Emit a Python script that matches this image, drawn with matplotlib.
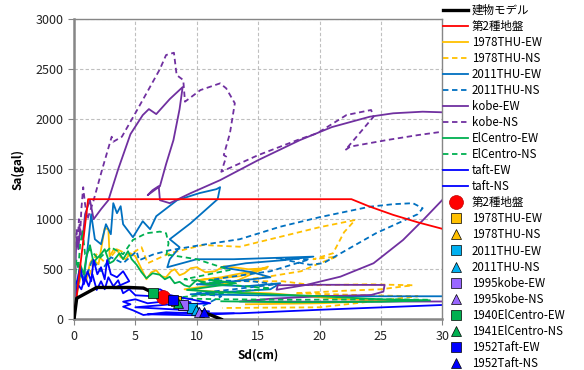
import matplotlib
matplotlib.use('Agg')
import matplotlib.pyplot as plt

plt.rcParams['font.family'] = ['Noto Sans CJK JP', 'DejaVu Sans']

# building capacity curve and site spectrum
bld_sd = [0, 0.22, 1.85, 3.0, 4.5, 5.65, 6.5, 7.3, 8.0, 8.9, 9.6, 10.3, 11.0, 12.0]
bld_sa = [0, 210, 318, 318, 318, 312, 262, 228, 196, 150, 115, 78, 50, 0]
spec_sd = [0, 1.15, 22.6, 24, 26, 28, 30]
spec_sa = [0, 1200, 1200, 1130, 1043, 969, 904]

# response traces (Sd cm, Sa gal)
thu78_ew_sd = [0, 0.3, 0.6, 1.0, 1.3, 1.5, 2.0, 2.5, 2.8, 2.9, 3.2, 3.5, 3.8, 4.2, 4.6, 5.0, 5.9, 6.3, 6.7, 7.1,
               7.5, 7.9, 8.2, 8.6, 9.0, 9.5, 10, 10.7, 11.5, 12.2, 13, 14.2, 15.7,
               12, 10, 13.5, 15.8, 13, 9, 11, 16, 22, 26, 20, 14]
thu78_ew_sa = [0, 300, 450, 380, 560, 600, 550, 910, 900, 630, 690, 700, 620, 600, 660, 630, 400, 470, 490, 430,
               420, 480, 500, 440, 460, 510, 520, 470, 480, 530, 520, 500, 510,
               420, 390, 430, 526, 370, 300, 280, 260, 200, 190, 160, 150]
thu78_ns_sd = [0, 0.3, 0.7, 1.2, 1.8, 2.6, 3.5, 4.5, 5.5, 6.0, 7.8, 10.5, 13.5, 17, 20, 22.9, 22, 21.1, 19.5, 21.4,
               20, 18.5, 16, 13, 17, 19.5, 24, 27.6, 25, 22, 18, 24, 28, 20, 12.1]
thu78_ns_sa = [0, 350, 500, 420, 650, 560, 700, 640, 720, 560, 660, 742, 725, 830, 920, 992, 870, 660, 600, 626,
               560, 480, 430, 380, 380, 340, 350, 340, 300, 285, 260, 240, 230, 120, 113]
thu11_ew_sd = [0, 0.2, 0.5, 0.8, 1.1, 1.4, 1.7, 2.2, 2.6, 3.0, 3.2, 3.5, 3.8, 4.0, 4.8, 5.6, 6.2, 6.7, 8.4, 10.2,
               11.6, 11.9, 11.7, 9.5, 7.8, 8.6, 7.8, 7.6, 10, 13, 16, 19.5, 17, 14, 12, 14.5, 16, 13, 10, 14, 16.8,
               16, 12, 9.5, 15, 22, 30, 32]
thu11_ew_sa = [0, 250, 450, 400, 700, 1050, 800, 750, 950, 850, 1160, 1060, 1130, 950, 820, 980, 900, 1030, 1190, 1260,
               1300, 1320, 1200, 960, 800, 720, 600, 520, 600, 600, 612, 626, 590, 560, 520, 470, 420, 380, 350, 330, 360,
               300, 270, 250, 240, 230, 230, 230]
thu11_ns_sd = [0, 0.3, 0.6, 1.0, 1.5, 2.2, 3.0, 4.0, 5.1, 5.3, 6.5, 7.8, 10.5, 13.5, 16.8, 20, 24.1, 26, 27.6, 28.4,
               28, 24.6, 20.3, 19.2, 16.5, 19.2, 16, 12.5, 11, 14.5, 16.5, 13, 10, 12, 9.9]
thu11_ns_sa = [0, 350, 500, 420, 600, 480, 620, 560, 680, 590, 650, 690, 745, 800, 925, 1020, 1125, 1150, 1160, 1110,
               1050, 860, 560, 545, 610, 600, 480, 420, 390, 380, 350, 300, 260, 230, 95]
kobe_ew_sd = [0, 0.1, 0.15, 0.2, 0.35, 0.5, 0.7, 0.9, 1.3, 1.6, 2.2, 2.8, 3.6, 4.6, 5.6, 6.1, 6.7, 7.8, 8.85, 8.6,
              8.1, 7.5, 7.0, 6.0, 6.4, 6.9, 7.0, 7.8, 9.5, 11.9, 15, 18.4, 21, 24.1, 26, 28.4, 30, 31.5, 32, 30,
              28.5, 26.8, 24.4, 21.7, 18.9, 16.5, 16.6, 20, 25.3, 25.2, 24.2, 20, 16, 13.5, 20, 30, 31]
kobe_ew_sa = [0, 300, 650, 820, 700, 900, 800, 1050, 1190, 1000, 1100, 1190, 1500, 1850, 2040, 2100, 2050, 2200, 2320, 2100,
              1790, 1550, 1330, 1240, 1290, 1330, 1190, 1160, 1260, 1390, 1590, 1790, 1920, 2024, 2058, 2074, 2068, 2060, 1700, 1192,
              1000, 792, 560, 426, 343, 295, 340, 345, 343, 276, 243, 230, 205, 178, 176, 178, 178]
kobe_ns_sd = [0, 0.05, 0.1, 0.2, 0.3, 0.4, 0.5, 0.6, 0.75, 0.9, 1.1, 1.6, 2.3, 3.07, 3.2, 3.9, 5.0, 6.05, 7.0, 7.5,
              8.14, 8.36, 8.9, 9.04, 10.3, 11.9, 12.4, 13.1, 12.7, 12.2, 12.4, 12.0, 15, 18.4, 19.8, 22.2, 24.2, 24.4,
              22.1, 22.5, 25.5, 28, 30, 32]
kobe_ns_sa = [0, 400, 800, 900, 750, 1000, 850, 1100, 1320, 1150, 1000, 1190, 1500, 1824, 1774, 1824, 2060, 2290, 2500, 2640,
              2663, 2440, 2390, 2174, 2290, 2357, 2307, 2158, 1858, 1641, 1624, 1474, 1640, 1800, 1858, 2041, 2091, 2024,
              1691, 1725, 1791, 1840, 1874, 1900]
elc_ew_sd = [0, 0.2, 0.5, 0.8, 1.0, 1.3, 1.6, 1.8, 2.2, 2.5, 2.9, 3.2, 3.7, 4.0, 4.4, 4.7, 5.1, 5.5, 5.9, 6.4,
             7.0, 7.4, 7.8, 8.2, 8.6, 9.0, 9.4, 10.0, 10.8, 11.9, 11.1, 13.2,
             9.2, 12, 16, 20, 25, 29, 25, 18, 12]
elc_ew_sa = [0, 300, 550, 450, 620, 740, 560, 600, 650, 700, 560, 580, 660, 600, 680, 600, 545, 470, 410, 460,
             445, 400, 425, 360, 375, 340, 325, 393, 350, 360, 395, 360,
             293, 270, 250, 230, 200, 190, 175, 170, 180]
elc_ns_sd = [0, 0.1, 0.2, 0.35, 0.5, 0.7, 0.9, 1.3, 2, 3, 4, 4.8, 5.9, 7.0, 7.5, 7.7, 7.5, 7.8, 10, 12.7,
             11, 9, 12, 16, 12, 7.8, 12, 18, 25, 29]
elc_ns_sa = [0, 400, 600, 500, 750, 880, 650, 700, 600, 720, 650, 793, 860, 876, 860, 760, 626, 643, 600, 493,
             450, 400, 350, 310, 260, 210, 200, 195, 200, 195]
taft_ew_sd = [0, 0.08, 0.3, 0.5, 0.8, 1.1, 1.4, 1.6, 1.9, 2.2, 2.5, 2.7, 3.0, 3.5, 4.0, 4.5, 3.2, 5.6, 6.4, 7.0,
              7.8, 8.6, 9.5, 11.1, 9, 7.5, 6, 5.0, 4.0, 4.6, 4.0, 4.8, 5.65, 7.5, 9.7, 13.5, 20, 30, 31]
taft_ew_sa = [0, 330, 400, 526, 350, 480, 380, 593, 450, 520, 400, 593, 450, 420, 480, 380, 310, 310, 280, 300,
              243, 220, 200, 160, 150, 180, 160, 200, 176, 150, 126, 90, 43, 70, 60, 60, 95, 143, 148]
taft_ns_sd = [0, 0.1, 0.3, 0.6, 0.9, 1.2, 1.5, 1.85, 2.2, 2.5, 2.8, 3.2, 3.6, 4, 4.5, 5, 6.5, 8, 9.5, 7,
              5, 8, 11, 8, 6, 10, 13]
taft_ns_sa = [0, 200, 350, 300, 420, 330, 450, 293, 380, 300, 420, 330, 390, 260, 300, 240, 230, 200, 170, 140,
              120, 100, 80, 60, 50, 40, 60]

line_labels = ['建物モデル', '第2種地盤', '1978THU-EW', '1978THU-NS', '2011THU-EW', '2011THU-NS',
               'kobe-EW', 'kobe-NS', 'ElCentro-EW', 'ElCentro-NS', 'taft-EW', 'taft-NS']

# performance points
pt_labels = ['第2種地盤', '1978THU-EW', '1978THU-NS', '2011THU-EW', '2011THU-NS', '1995kobe-EW',
             '1995kobe-NS', '1940ElCentro-EW', '1941ElCentro-NS', '1952Taft-EW', '1952Taft-NS']
pt_sd = [7.27, 8.3, 9.0, 9.58, 9.9, 8.85, 10.2, 6.46, 8.5, 8.03, 10.6]
pt_sa = [226, 185, 140, 110, 95, 146, 70, 260, 166, 193, 76]

orange = '#FFC000'
blue11 = '#0070C0'
purple = '#7030A0'
green = '#00B050'
blue = '#0000FF'
dash = (0, (3, 2))

fig = plt.figure(figsize=(5.84, 3.70), dpi=100)
ax = fig.add_axes([74 / 584, 50.7 / 370, 368.3 / 584, 300.3 / 370])

traces = [
    (bld_sd, bld_sa, 'black', '-', 2.4),
    (spec_sd, spec_sa, '#FF0000', '-', 1.3),
    (thu78_ew_sd, thu78_ew_sa, orange, '-', 1.3),
    (thu78_ns_sd, thu78_ns_sa, orange, dash, 1.3),
    (thu11_ew_sd, thu11_ew_sa, blue11, '-', 1.3),
    (thu11_ns_sd, thu11_ns_sa, blue11, dash, 1.3),
    (kobe_ew_sd, kobe_ew_sa, purple, '-', 1.3),
    (kobe_ns_sd, kobe_ns_sa, purple, dash, 1.3),
    (elc_ew_sd, elc_ew_sa, green, '-', 1.3),
    (elc_ns_sd, elc_ns_sa, green, dash, 1.3),
    (taft_ew_sd, taft_ew_sa, blue, '-', 1.3),
    (taft_ns_sd, taft_ns_sa, blue, '-', 1.3),
]
zs = [5, 4.5, 2, 2, 2, 2, 2, 2, 2, 2, 2.2, 2.2]
for (x, y, c, ls, lw), lab, z in zip(traces, line_labels, zs):
    ax.plot(x, y, color=c, linestyle=ls, linewidth=lw, label=lab, zorder=z)

pt_marker = ['o', 's', '^', 's', '^', 's', '^', 's', '^', 's', '^']
pt_color = ['#FF0000', orange, orange, '#00B0F0', '#00B0F0', '#9966FF', '#9966FF',
            green, green, blue, blue]
for sd, sa, lab, m, c in zip(pt_sd, pt_sa, pt_labels, pt_marker, pt_color):
    ms = 10 if m == 'o' else 6.5
    z = 5.5 if c == orange else 6
    ax.plot([sd], [sa], linestyle='none', marker=m, markersize=ms, markerfacecolor=c,
            markeredgecolor='#C00000' if m == 'o' else 'black', markeredgewidth=0.5,
            label=lab, zorder=z)

ax.set_xlim(0, 30)
ax.set_ylim(0, 3000)
ax.set_xticks(range(0, 31, 5))
ax.set_yticks(range(0, 3001, 500))
ax.grid(True, color='#BFBFBF', linestyle=(0, (3, 2)), linewidth=0.8)
ax.set_axisbelow(True)
for s in ax.spines.values():
    s.set_color('#868686')
    s.set_linewidth(1.0)
ax.spines['left'].set_linewidth(1.8)
ax.spines['bottom'].set_linewidth(1.8)
ax.tick_params(direction='out', length=4, color='#868686', labelsize=9, labelcolor='#222222')
ax.set_xlabel('Sd(cm)', fontsize=8.5, fontweight='bold', labelpad=4)
ax.set_ylabel('Sa(gal)', fontsize=8.5, fontweight='bold', labelpad=8)

ax.legend(loc='upper left', bbox_to_anchor=(443 / 584, 0.99), bbox_transform=fig.transFigure,
          frameon=False, fontsize=8.3, labelspacing=0.265, handlelength=2.2, handletextpad=0.3,
          borderaxespad=0, borderpad=0)

plt.savefig('out.png', dpi=100)
plt.close()
